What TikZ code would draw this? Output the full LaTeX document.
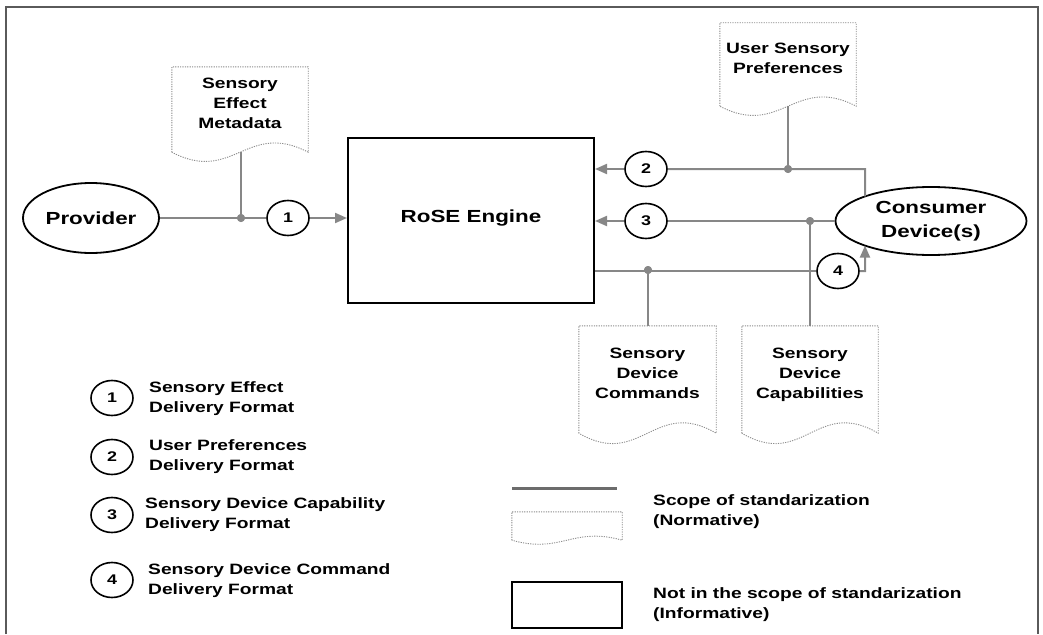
\documentclass[tikz,border=0pt]{standalone}
\usepackage{fontspec}
\setmainfont{Liberation Sans}[FakeStretch=1.28]
\usetikzlibrary{arrows.meta,shapes.geometric,intersections,calc}
\definecolor{conngray}{RGB}{135,135,135}
\definecolor{docgray}{RGB}{140,140,140}
\definecolor{framegray}{RGB}{90,90,90}
\newcommand{\liftxt}[2]{\raisebox{#1}[\height][\depth]{\begin{tabular}{@{}c@{}}#2\end{tabular}}}
\newcommand{\docoutline}[2]{%
  \draw[docline] (#1.south west) -- (#1.north west) -- (#1.north east) -- (#1.south east)
    .. controls ($(#1.south east)!0.45!(#1.south west)+(0,-#2)$) and ($(#1.south west)!0.45!(#1.south east)+(0,#2)$) .. (#1.south west);}
\begin{document}
\begin{tikzpicture}[x=1pt,y=-1pt,
  lbl/.style={font=\fontsize{15}{20}\selectfont\bfseries, align=center},
  lgd/.style={font=\fontsize{15}{20}\selectfont\bfseries, align=left, anchor=west, inner sep=0pt},
  big/.style={font=\fontsize{17.5}{24}\selectfont\bfseries, align=center},
  oval/.style={ellipse, draw=black, line width=1.8pt, inner sep=0pt, big},
  num/.style={ellipse, draw=black, line width=1.6pt, minimum width=42pt, minimum height=35pt, inner sep=0pt, font=\fontsize{14}{14}\selectfont\bfseries},
  conn/.style={draw=conngray, line width=2pt},
  arr/.style={conn, -{Triangle[length=12pt,width=10pt]}},
  dot/.style={circle, fill=conngray, minimum size=8pt, inner sep=0pt},
  docnode/.style={rectangle, inner sep=0pt, lbl},
  docline/.style={draw=docgray, line width=0.9pt, dash pattern=on 1.2pt off 1.2pt},
  enginebox/.style={rectangle, draw=black, line width=2pt, inner sep=0pt, big}
]
\useasboundingbox (0,0) rectangle (1043,634);
% frame
\draw[framegray, line width=1.2pt] (6,634) -- (6,7) -- (1038,7) -- (1038,634);

% main nodes
\node[oval, minimum width=136pt, minimum height=70pt] (prov) at (91,218) {Provider};
\node[enginebox, minimum width=246pt, minimum height=165pt] (eng) at (471,220.5) {\raisebox{2.5pt}[\height][\depth]{RoSE Engine}};
\node[oval, minimum width=191pt, minimum height=68pt, name path=consp] (cons) at (931,221) {Consumer\\Device(s)};

% documents
\node[docnode, minimum width=136pt, minimum height=85pt] (sem) at (240,109.5) {\liftxt{5pt}{Sensory\\Effect\\Metadata}};
\node[docnode, minimum width=136pt, minimum height=83pt] (usp) at (788,64.5) {\liftxt{4.5pt}{User Sensory\\Preferences}};
\node[docnode, minimum width=137pt, minimum height=107pt] (sdcm) at (647.5,379.5) {\liftxt{5.5pt}{Sensory\\Device\\Commands}};
\node[docnode, minimum width=136pt, minimum height=107pt] (sdcp) at (810,379.5) {\liftxt{5.5pt}{Sensory\\Device\\Capabilities}};
\docoutline{sem}{32}
\docoutline{usp}{32}
\docoutline{sdcm}{36}
\docoutline{sdcp}{36}

% numbered circles
\node[num] (c1) at (288,218) {1};
\node[num] (c2) at (646,169) {2};
\node[num] (c3) at (646,221) {3};
\node[num] (c4) at (838,271) {4};

% junction dots
\node[dot] (j1) at (241,218) {};
\node[dot] (j2) at (788,169) {};
\node[dot] (j3) at (810,221) {};
\node[dot] (j4) at (648,270) {};

\coordinate (k2) at (865,169);
\coordinate (k4) at (865,271);
\path[name path=vline] (865,150) -- (865,300);
\path[name intersections={of=consp and vline, name=ix, sort by=vline}];

% connectors
\draw[conn] (prov.east) -- (c1.west);
\draw[arr] (c1.east) -- (c1.east -| eng.west);
\draw[conn] (j1 |- sem.south) -- (j1);

\draw[arr] (c2.west) -- (c2.west -| eng.east);
\draw[conn] (c2.east) -- (k2) -- (ix-1);
\draw[conn] (j2 |- usp.south) -- (j2);

\draw[arr] (c3.west) -- (c3.west -| eng.east);
\draw[conn] (c3.east) -- (cons.west);
\draw[conn] (j3) -- (j3 |- sdcp.north);

\draw[conn] (c4.west -| eng.east) -- (c4.west);
\draw[arr] (c4.east) -- (k4) -- (ix-2);
\draw[conn] (j4) -- (j4 |- sdcm.north);

% redraw dots on top
\node[dot] at (j1) {};
\node[dot] at (j2) {};
\node[dot] at (j3) {};
\node[dot] at (j4) {};

% legend (left)
\node[num] (l1) at (112,398) {1};
\node[num] (l2) at (112,457) {2};
\node[num] (l3) at (112,515) {3};
\node[num] (l4) at (112,580) {4};
\node[lgd] (t1) at (149,399) {Sensory Effect\\Delivery Format};
\node[lgd] (t2) at (149,457) {User Preferences\\Delivery Format};
\node[lgd] (t3) at (145,514.5) {Sensory Device Capability\\Delivery Format};
\node[lgd] (t4) at (148,580.5) {Sensory Device Command\\Delivery Format};

% legend (right)
\coordinate (ls) at (512,488);
\coordinate (le) at (617,488);
\draw[draw=conngray!80!black, line width=3pt] (ls) -- (le);
\node[docnode, minimum width=110pt, minimum height=28pt] (ldoc) at (567,526) {};
\docoutline{ldoc}{14}
\node[rectangle, draw=black, line width=2pt, minimum width=110pt, minimum height=46pt, inner sep=0pt] (lbox) at (567,605) {};
\node[lgd] (ts) at (653,512) {Scope of standarization\\(Normative)};
\node[lgd] (tn) at (653,605) {Not in the scope of standarization\\(Informative)};
\end{tikzpicture}
\end{document}
